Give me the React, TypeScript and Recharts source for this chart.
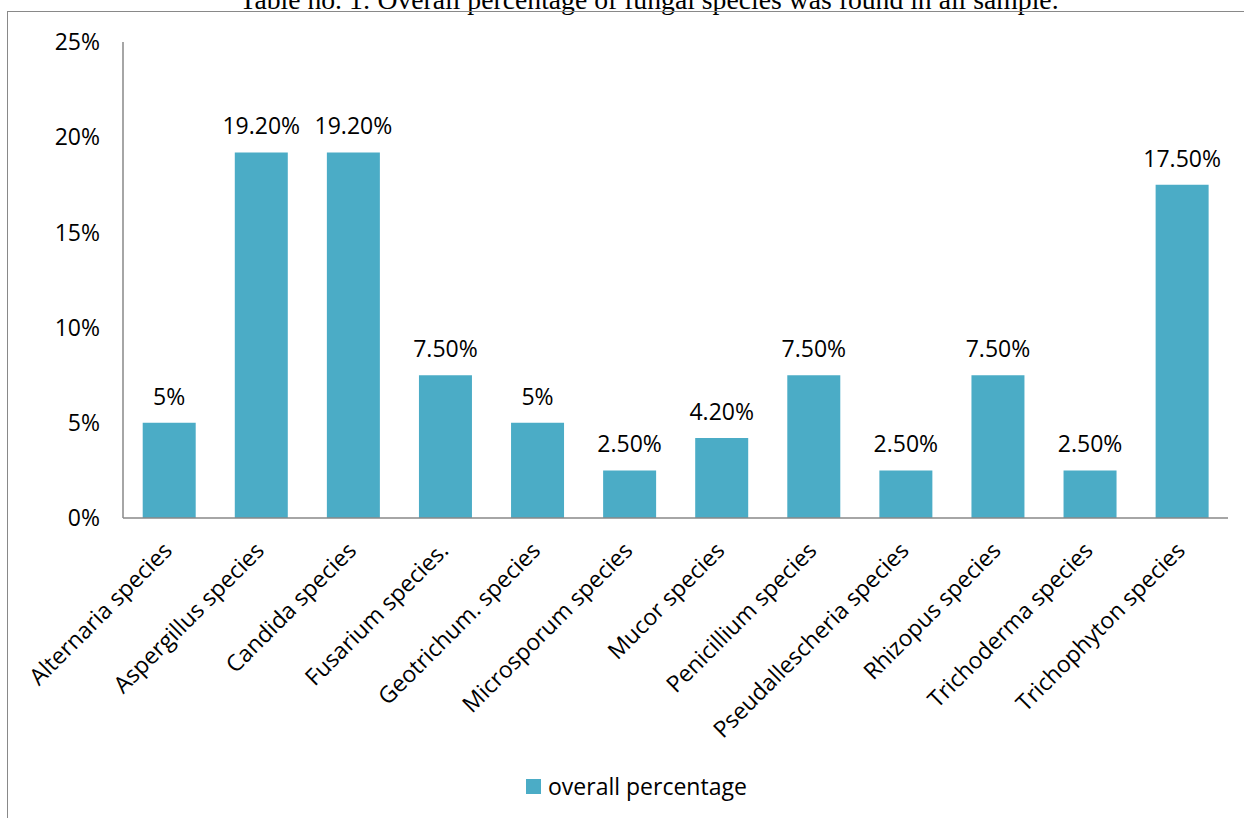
import { BarChart, Bar, XAxis, YAxis, LabelList, Legend } from 'recharts';

// fungal species found across all samples
const species = [
  'Alternaria species',
  'Aspergillus species',
  'Candida species',
  'Fusarium species.',
  'Geotrichum. species',
  'Microsporum species',
  'Mucor species',
  'Penicillium species',
  'Pseudallescheria species',
  'Rhizopus species',
  'Trichoderma species',
  'Trichophyton species',
];
const overallPercentage = [5, 19.2, 19.2, 7.5, 5, 2.5, 4.2, 7.5, 2.5, 7.5, 2.5, 17.5];
const valueLabels = ['5%', '19.20%', '19.20%', '7.50%', '5%', '2.50%', '4.20%', '7.50%', '2.50%', '7.50%', '2.50%', '17.50%'];
const yTicks = [0, 5, 10, 15, 20, 25];

const data = species.map((name, i) => ({
  name,
  value: overallPercentage[i],
  label: valueLabels[i],
}));

const BAR_COLOR = '#4BACC6';
const AXIS_COLOR = '#898989';
const FONT = '"Open Sans", sans-serif';

const CategoryTick = ({ x, y, payload }: any) => (
  <g transform={`translate(${x + 4.5},${y + 34})`}>
    <text textAnchor="end" transform="rotate(-45)" fontSize={23} fontFamily={FONT} fill="#000">
      {payload.value}
    </text>
  </g>
);

const LegendContent = () => (
  <div style={{ display: 'flex', alignItems: 'center', fontFamily: FONT, fontSize: 23, lineHeight: '30px' }}>
    <span style={{ width: 15, height: 15, background: BAR_COLOR, marginRight: 7, display: 'inline-block' }} />
    <span style={{ color: '#000' }}>overall percentage</span>
  </div>
);

export default function App() {
  return (
    <div style={{ position: 'absolute', left: 0, top: 0, width: 1244, height: 818, overflow: 'hidden', background: '#fff' }}>
      {/* caption sits above the chart frame, cut by the page top */}
      <div
        style={{
          position: 'absolute',
          top: -14.5,
          left: 0,
          width: 1298,
          textAlign: 'center',
          fontFamily: '"Liberation Serif", "Times New Roman", serif',
          fontSize: 27.7,
          lineHeight: '27.7px',
          color: '#000',
          whiteSpace: 'nowrap',
        }}
      >
        Table no. 1: Overall percentage of fungal species was found in all sample.
      </div>
      <div
        style={{
          position: 'absolute',
          left: 7,
          top: 11,
          width: 1250,
          height: 820,
          borderLeft: `1.5px solid ${AXIS_COLOR}`,
          borderTop: `1.5px solid ${AXIS_COLOR}`,
        }}
      />
      <div style={{ position: 'absolute', left: 0, top: 0 }}>
        <BarChart
          width={1244}
          height={818}
          data={data}
          margin={{ top: 42, right: 16, bottom: 240, left: 8 }}
          barCategoryGap="21.4%"
        >
          <XAxis
            dataKey="name"
            interval={0}
            height={60}
            tickLine={false}
            tickSize={0}
            tickMargin={0}
            axisLine={{ stroke: AXIS_COLOR, strokeWidth: 1.5 }}
            tick={<CategoryTick />}
          />
          <YAxis
            width={115}
            domain={[0, 25]}
            ticks={yTicks}
            interval={0}
            tickLine={false}
            tickSize={0}
            tickMargin={23}
            axisLine={{ stroke: AXIS_COLOR, strokeWidth: 1.5 }}
            tickFormatter={(v: number) => `${v}%`}
            tick={{ fontSize: 23, fontFamily: FONT, fill: '#000' }}
          />
          <Legend
            layout="horizontal"
            verticalAlign="middle"
            align="center"
            wrapperStyle={{ left: 526, top: 771, width: 300, height: 30 }}
            content={<LegendContent />}
          />
          <Bar dataKey="value" fill={BAR_COLOR} isAnimationActive={false}>
            <LabelList dataKey="label" position="top" offset={18} fontSize={23} fontFamily={FONT} fill="#000" />
          </Bar>
        </BarChart>
      </div>
    </div>
  );
}
